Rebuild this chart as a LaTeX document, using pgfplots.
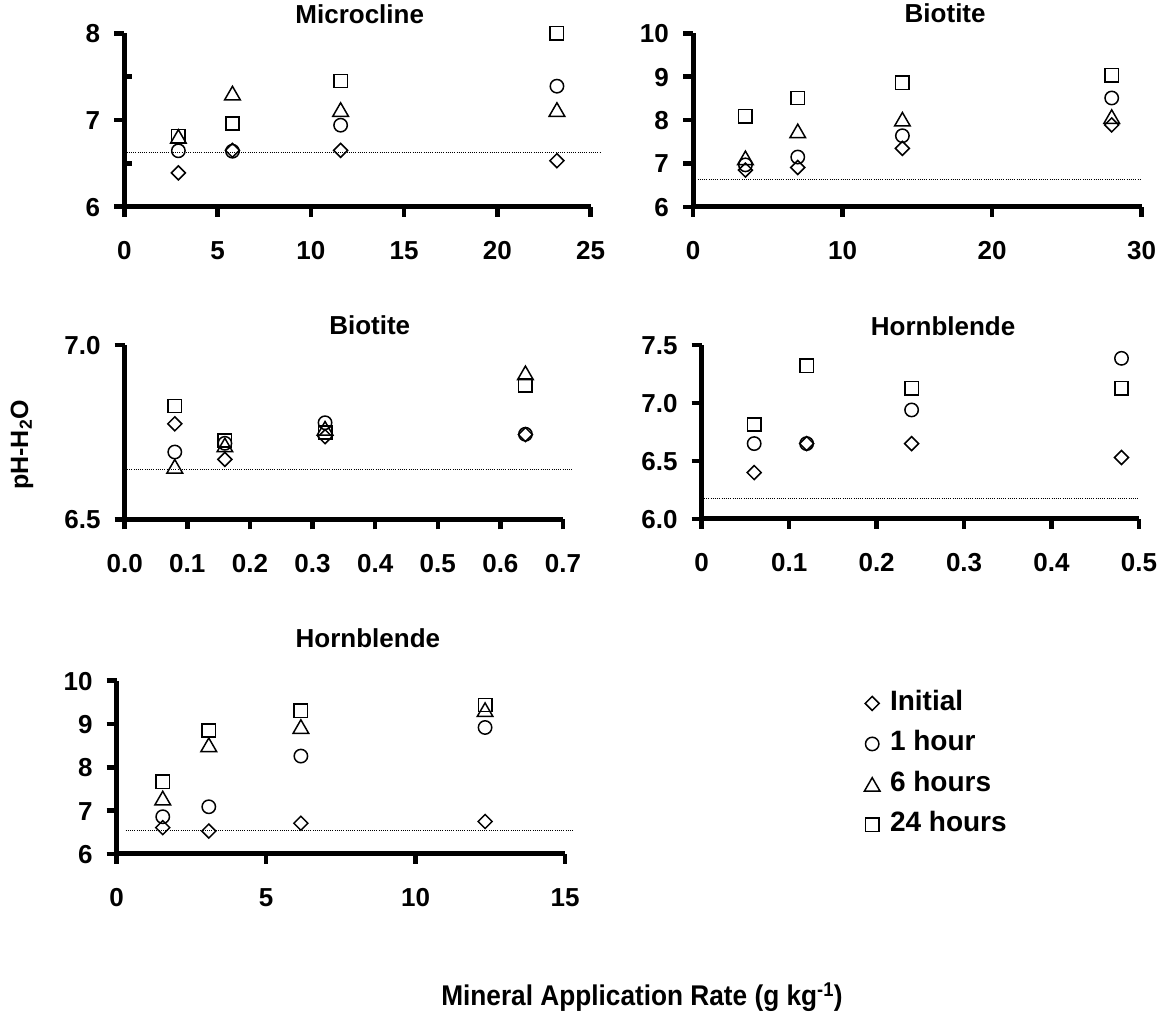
\documentclass[border=0pt]{standalone}
\usepackage{fontspec}
\setmainfont{Liberation Sans}
\usepackage{graphicx}
\usepackage{pgfplots}
\pgfplotsset{compat=1.18}

\pgfplotsset{
  panel/.style={
    scale only axis, clip=false,
    axis lines*=left,
    axis line style={line width=5pt, black},
    tick style={line width=4.5pt, black},
    tick align=outside,
    major tick length=10pt,
    /pgf/number format/assume math mode=true,
    xticklabel={\pgfmathprintnumber{\tick}},
    yticklabel={\pgfmathprintnumber{\tick}},
    tick label style={font=\fontsize{26}{30}\selectfont\bfseries, inner sep=0pt,
      text height=18.8pt, text depth=0pt},
    xticklabel style={yshift=-24pt},
    yticklabel style={xshift=-14pt},
    title style={font=\fontsize{26}{30}\selectfont\bfseries, anchor=base, inner sep=0pt},
  },
  sInit/.style={only marks, mark=square, mark size=4.95pt,
    mark options={rotate=45, line width=1.5pt, black}},
  sOne/.style={only marks, mark=o, mark size=6.7pt,
    mark options={line width=1.5pt, black}},
  sSix/.style={only marks, mark=triangle, mark size=9pt,
    mark options={line width=1.5pt, black, yshift=-2.2pt}},
  sDay/.style={only marks, mark=square, mark size=6.7pt,
    mark options={line width=1.5pt, black}},
  base/.style={black, line width=0.9pt, dash pattern=on 1pt off 1.2pt, forget plot},
}

\begin{document}
\begin{tikzpicture}[x=1pt,y=1pt]
\useasboundingbox (0,0) rectangle (1167,1014);

% Microcline
\begin{axis}[panel, at={(124.3pt,807.3pt)}, anchor=south west,
  width=466.2pt, height=173.4pt,
  xmin=0, xmax=25, ymin=6, ymax=8,
  xtick={0,5,...,25}, ytick={6,7,8},
  extra y ticks={6.5,7.5}, extra y tick labels={},
  extra y tick style={tick align=inside, major tick length=8pt},
  title={Microcline}, title style={at={(0.505,1)}, yshift=4pt}]
  \addplot[base] coordinates {(0,6.63) (25.5,6.63)};
  \addplot[sInit] coordinates {(2.9,6.39) (5.8,6.65) (11.6,6.65) (23.2,6.53)};
  \addplot[sOne]  coordinates {(2.9,6.645) (5.8,6.64) (11.6,6.94) (23.2,7.39)};
  \addplot[sSix]  coordinates {(2.9,6.81) (5.8,7.31) (11.6,7.12) (23.2,7.12)};
  \addplot[sDay]  coordinates {(2.9,6.815) (5.8,6.96) (11.6,7.45) (23.2,8.00)};
\end{axis}

% Biotite, high rates
\begin{axis}[panel, at={(693.1pt,807pt)}, anchor=south west,
  width=448.5pt, height=173.7pt,
  xmin=0, xmax=30, ymin=6, ymax=10,
  xtick={0,10,20,30}, ytick={6,7,...,10},
  title={Biotite}, title style={at={(0.562,1)}, yshift=5pt}]
  \addplot[base] coordinates {(0,6.64) (30,6.64)};
  \addplot[sInit] coordinates {(3.5,6.85) (7,6.91) (14,7.35) (28,7.89)};
  \addplot[sOne]  coordinates {(3.5,6.97) (7,7.15) (14,7.64) (28,8.51)};
  \addplot[sSix]  coordinates {(3.5,7.13) (7,7.75) (14,8.02) (28,8.08)};
  \addplot[sDay]  coordinates {(3.5,8.09) (7,8.51) (14,8.86) (28,9.03)};
\end{axis}

% Biotite, low rates
\begin{axis}[panel, at={(124.7pt,494.7pt)}, anchor=south west,
  width=438.3pt, height=174.3pt,
  xmin=0, xmax=0.7, ymin=6.5, ymax=7.0,
  xtick={0,0.1,...,0.7}, ytick={6.5,7.0},
  xticklabel style={/pgf/number format/.cd, fixed, fixed zerofill, precision=1},
  yticklabel style={/pgf/number format/.cd, fixed, fixed zerofill, precision=1},
  title={Biotite}, title style={at={(0.559,1)}, yshift=4.3pt}]
  \addplot[base] coordinates {(0,6.644) (0.716,6.644)};
  \addplot[sInit] coordinates {(0.08,6.774) (0.16,6.672) (0.32,6.737) (0.64,6.743)};
  \addplot[sOne]  coordinates {(0.08,6.693) (0.16,6.718) (0.32,6.777) (0.64,6.744)};
  \addplot[sSix]  coordinates {(0.08,6.652) (0.16,6.713) (0.32,6.761) (0.64,6.920)};
  \addplot[sDay]  coordinates {(0.08,6.825) (0.16,6.726) (0.32,6.749) (0.64,6.885)};
\end{axis}

% Hornblende, low rates
\begin{axis}[panel, at={(701.7pt,495pt)}, anchor=south west,
  width=437.3pt, height=174pt,
  xmin=0, xmax=0.5, ymin=6, ymax=7.5,
  xtick={0,0.1,0.2,0.3,0.4,0.5}, xticklabels={0,0.1,0.2,0.3,0.4,0.5},
  ytick={6,6.5,7,7.5},
  yticklabel style={/pgf/number format/.cd, fixed, fixed zerofill, precision=1},
  title={Hornblende}, title style={at={(0.552,1)}, yshift=3.3pt}]
  \addplot[base] coordinates {(0,6.178) (0.5,6.178)};
  \addplot[sInit] coordinates {(0.06,6.40) (0.12,6.65) (0.24,6.65) (0.48,6.53)};
  \addplot[sOne]  coordinates {(0.06,6.65) (0.12,6.65) (0.24,6.94) (0.48,7.385)};
  \addplot[sDay]  coordinates {(0.06,6.815) (0.12,7.32) (0.24,7.127) (0.48,7.127)};
\end{axis}

% Hornblende, high rates
\begin{axis}[panel, at={(116.7pt,160pt)}, anchor=south west,
  width=448.5pt, height=173.3pt,
  xmin=0, xmax=15, ymin=6, ymax=10,
  xtick={0,5,10,15}, ytick={6,7,...,10},
  title={Hornblende}, title style={at={(0.56,1)}, yshift=27.4pt},
  legend style={at={(1.66,0.968)}, anchor=north west, draw=none, fill=none,
    font=\fontsize{28}{32}\selectfont\bfseries,
    nodes={inner sep=2pt, text height=20pt, text depth=6pt},
    row sep=10.5pt,
    /tikz/every odd column/.append style={column sep=8pt}},
  legend cell align=left]
  \addplot[base] coordinates {(0.3,6.55) (15.3,6.55)};
  \addplot[sInit] coordinates {(1.54,6.61) (3.08,6.53) (6.16,6.71) (12.32,6.75)};
  \addplot[sOne]  coordinates {(1.54,6.86) (3.08,7.09) (6.16,8.26) (12.32,8.92)};
  \addplot[sSix]  coordinates {(1.54,7.29) (3.08,8.52) (6.16,8.94) (12.32,9.33)};
  \addplot[sDay]  coordinates {(1.54,7.67) (3.08,8.85) (6.16,9.31) (12.32,9.44)};
  \legend{Initial, 1 hour, 6 hours, 24 hours}
\end{axis}

% shared axis titles
\node[rotate=90, anchor=center, font=\fontsize{25}{30}\selectfont\bfseries]
  at (22,569) {pH-H\textsubscript{2}O};
\node[anchor=base, font=\fontsize{28.5}{32}\selectfont\bfseries]
  at (642,8) {\scalebox{0.92}[1]{Mineral Application Rate (g kg\textsuperscript{-1})}};
\end{tikzpicture}
\end{document}
